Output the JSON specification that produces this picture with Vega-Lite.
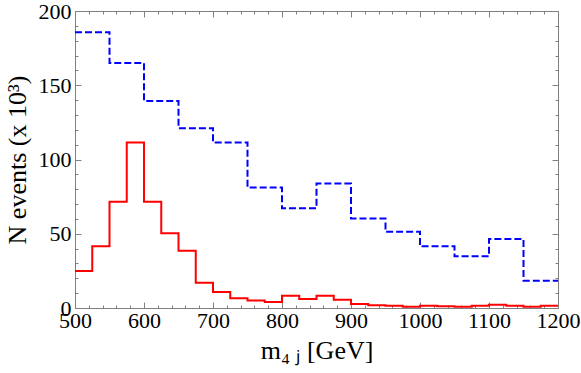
{
  "$schema": "https://vega.github.io/schema/vega-lite/v6.json",
  "width": 483,
  "height": 297,
  "autosize": {"type": "none"},
  "padding": {"left": 75, "top": 11, "right": 23, "bottom": 65},
  "background": "white",
  "config": {
    "view": {"stroke": null},
    "font": "Liberation Serif",
    "axis": {
      "grid": false,
      "domainColor": "#808080",
      "tickColor": "#808080",
      "labelColor": "black",
      "titleColor": "black",
      "labelFont": "Liberation Serif",
      "titleFont": "Liberation Serif",
      "titleFontWeight": "normal",
      "labelFontSize": 22,
      "titleFontSize": 26,
      "labelFlush": false,
      "labelOverlap": false,
      "format": "d"
    }
  },
  "datasets": {
    "qcd": [
      {"m": 500, "n": 185.7}, {"m": 550, "n": 165}, {"m": 600, "n": 139.4}, {"m": 650, "n": 121},
      {"m": 700, "n": 111.4}, {"m": 750, "n": 81.1}, {"m": 800, "n": 67.2}, {"m": 850, "n": 83.8},
      {"m": 900, "n": 60.3}, {"m": 950, "n": 51.3}, {"m": 1000, "n": 41.5}, {"m": 1050, "n": 34.8},
      {"m": 1100, "n": 46.4}, {"m": 1150, "n": 18.4}, {"m": 1200, "n": 18.4}
    ],
    "rpv": [
      {"m": 500, "n": 25}, {"m": 525, "n": 41.5}, {"m": 550, "n": 71.5}, {"m": 575, "n": 111.4},
      {"m": 600, "n": 71.5}, {"m": 625, "n": 50.4}, {"m": 650, "n": 38.5}, {"m": 675, "n": 17},
      {"m": 700, "n": 10.8}, {"m": 725, "n": 6.5}, {"m": 750, "n": 5.1}, {"m": 775, "n": 4},
      {"m": 800, "n": 8.3}, {"m": 825, "n": 6}, {"m": 850, "n": 8.3}, {"m": 875, "n": 5.6},
      {"m": 900, "n": 2.7}, {"m": 925, "n": 1.8}, {"m": 950, "n": 1.5}, {"m": 975, "n": 0.9},
      {"m": 1000, "n": 1.5}, {"m": 1025, "n": 1.2}, {"m": 1050, "n": 0.9}, {"m": 1075, "n": 1.5},
      {"m": 1100, "n": 2.2}, {"m": 1125, "n": 1.5}, {"m": 1150, "n": 0.9}, {"m": 1175, "n": 1.5},
      {"m": 1200, "n": 1.5}
    ]
  },
  "resolve": {"axis": {"x": "independent", "y": "independent"}},
  "layer": [
    {
      "data": {"name": "qcd"},
      "mark": {"type": "line", "interpolate": "step-after", "color": "#0000ff", "strokeWidth": 2, "strokeDash": [7, 3], "clip": true},
      "encoding": {
        "x": {"field": "m", "type": "quantitative", "scale": {"domain": [500, 1200], "nice": false, "zero": false},
          "axis": {"orient": "bottom", "values": [500, 600, 700, 800, 900, 1000, 1100, 1200], "tickSize": -6, "labelPadding": 8, "title": "m₄ ⱼ [GeV]", "titlePadding": 6}},
        "y": {"field": "n", "type": "quantitative", "scale": {"domain": [0, 200], "nice": false},
          "axis": {"orient": "left", "values": [0, 50, 100, 150, 200], "tickSize": -6, "labelPadding": 10, "title": "N events (x 10³)", "titlePadding": 8}}
      }
    },
    {
      "data": {"name": "rpv"},
      "mark": {"type": "line", "interpolate": "step-after", "color": "#ff0000", "strokeWidth": 2, "clip": true},
      "encoding": {
        "x": {"field": "m", "type": "quantitative",
          "axis": {"orient": "bottom", "values": [520, 540, 560, 580, 620, 640, 660, 680, 720, 740, 760, 780, 820, 840, 860, 880, 920, 940, 960, 980, 1020, 1040, 1060, 1080, 1120, 1140, 1160, 1180], "tickSize": -3, "labels": false, "domain": false, "title": null}},
        "y": {"field": "n", "type": "quantitative",
          "axis": {"orient": "left", "values": [10, 20, 30, 40, 60, 70, 80, 90, 110, 120, 130, 140, 160, 170, 180, 190], "tickSize": -3, "labels": false, "domain": false, "title": null}}
      }
    },
    {
      "data": {"name": "qcd"},
      "mark": {"type": "point", "opacity": 0},
      "encoding": {
        "x": {"field": "m", "type": "quantitative",
          "axis": {"orient": "top", "values": [500, 600, 700, 800, 900, 1000, 1100, 1200], "tickSize": -6, "labels": false, "title": null}},
        "y": {"field": "n", "type": "quantitative",
          "axis": {"orient": "right", "values": [0, 50, 100, 150, 200], "tickSize": -6, "labels": false, "title": null}}
      }
    },
    {
      "data": {"name": "rpv"},
      "mark": {"type": "point", "opacity": 0},
      "encoding": {
        "x": {"field": "m", "type": "quantitative",
          "axis": {"orient": "top", "values": [520, 540, 560, 580, 620, 640, 660, 680, 720, 740, 760, 780, 820, 840, 860, 880, 920, 940, 960, 980, 1020, 1040, 1060, 1080, 1120, 1140, 1160, 1180], "tickSize": -3, "labels": false, "domain": false, "title": null}},
        "y": {"field": "n", "type": "quantitative",
          "axis": {"orient": "right", "values": [10, 20, 30, 40, 60, 70, 80, 90, 110, 120, 130, 140, 160, 170, 180, 190], "tickSize": -3, "labels": false, "domain": false, "title": null}}
      }
    },
    {
      "mark": {"type": "text", "text": "QCD", "color": "#0000ff", "fontSize": 21, "align": "left", "baseline": "middle", "font": "Liberation Serif"},
      "encoding": {
        "x": {"datum": 619, "type": "quantitative", "axis": null},
        "y": {"datum": 152.6, "type": "quantitative", "axis": null}
      }
    },
    {
      "mark": {"type": "text", "text": "cRPV x 100", "color": "#ff0000", "fontSize": 21, "align": "left", "baseline": "middle", "font": "Liberation Serif"},
      "encoding": {
        "x": {"datum": 693, "type": "quantitative", "axis": null},
        "y": {"datum": 29.2, "type": "quantitative", "axis": null}
      }
    },
    {
      "mark": {"type": "text", "text": "L = 5 fb⁻¹", "color": "black", "fontSize": 21, "align": "left", "baseline": "middle", "font": "Liberation Serif"},
      "encoding": {
        "x": {"datum": 1036, "type": "quantitative", "axis": null},
        "y": {"datum": 178.6, "type": "quantitative", "axis": null}
      }
    }
  ]
}
